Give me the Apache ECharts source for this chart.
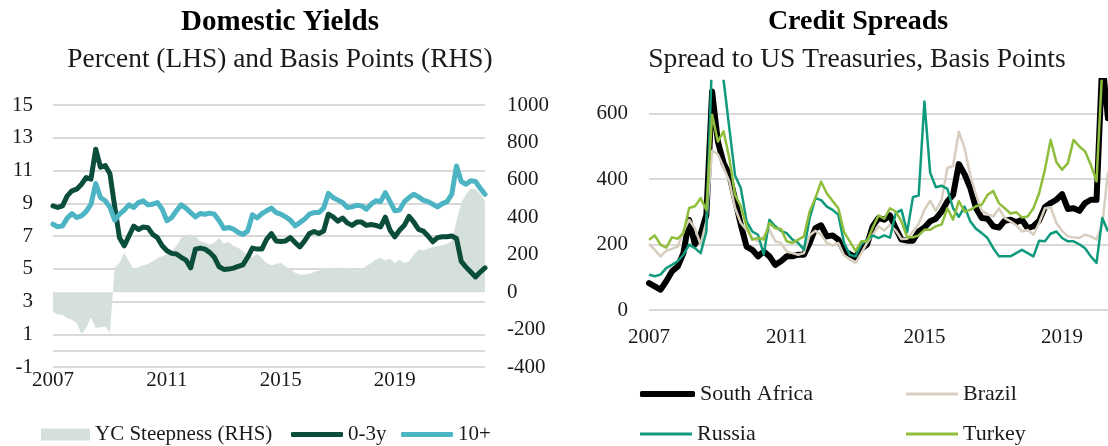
<!DOCTYPE html>
<html>
<head>
<meta charset="utf-8">
<script src="https://cdn.jsdelivr.net/npm/echarts@6/dist/echarts.min.js"></script>
<style>
  html, body { margin: 0; padding: 0; background: #fff; }
  #chart { width: 1108px; height: 446px; }
</style>
</head>
<body>
<div id="chart"></div>
<script>
// ---- Domestic yields (two-monthly observations from Jan 2007) ----
const yieldStart = [2007, 1];
const yieldStepMonths = 2;

// Yield-curve steepness, basis points (RHS)
const ycSteepness = [
  -103, -121, -121, -138, -147, -165, -224, -192, -135, -192, -188, -183, -215, 130, 156, 210,
  165, 121, 133, 144, 151, 165, 183, 192, 201, 219, 246, 290, 300, 310, 299,
  272, 264, 255, 264, 290, 258, 269, 246, 237, 219, 201, 187, 205, 183, 156, 144,
  151, 156, 138, 121, 103, 94, 94, 97, 108, 115, 126, 126, 130, 130,
  130, 121, 121, 115, 121, 138, 156, 174, 183, 169, 180, 156, 174, 156, 165, 201,
  228, 222, 233, 240, 246, 251, 258, 273, 380, 478, 523, 555, 550, 526, 487
];

// 0-3 year yield, percent (LHS)
const yield03 = [
  8.84, 8.74, 8.84, 9.45, 9.76, 9.86, 10.16, 10.57, 10.47, 12.3, 11.2, 11.3, 10.8, 8.8, 6.9, 6.4,
  7.0, 7.6, 7.4, 7.55, 7.5, 7.1, 6.9, 6.4, 6.1, 5.94, 5.9, 5.7, 5.53, 5.05, 6.2,
  6.26, 6.2, 6.0, 5.7, 5.12, 4.96, 4.98, 5.04, 5.14, 5.24, 5.7, 6.26, 6.2, 6.2, 6.8, 7.15,
  6.7, 6.66, 6.7, 6.9, 6.6, 6.34, 6.7, 7.15, 7.28, 7.15, 7.3, 8.33, 8.17, 7.9,
  8.1, 7.8, 7.65, 7.85, 7.85, 7.65, 7.7, 7.65, 7.55, 8.15, 7.35, 6.95, 7.35, 7.65, 8.2, 7.85,
  7.4, 7.3, 7.0, 6.65, 6.9, 6.95, 6.95, 7.0, 6.85, 5.45, 5.1, 4.8, 4.5, 4.8, 5.05
];

// 10+ year yield, percent (LHS)
const yield10 = [
  7.72, 7.56, 7.62, 8.09, 8.37, 8.13, 8.23, 8.5, 8.94, 10.2, 9.35, 9.15, 8.75, 7.97, 8.33, 8.58,
  8.9, 8.74, 9.04, 9.15, 8.9, 8.94, 9.04, 8.64, 7.93, 8.13, 8.54, 8.9, 8.7, 8.43, 8.17,
  8.37, 8.33, 8.4, 8.33, 7.93, 7.46, 7.52, 7.42, 7.22, 7.1, 7.3, 8.3, 8.1, 8.37, 8.54, 8.7,
  8.43, 8.33, 8.17, 7.97, 7.62, 7.82, 8.03, 8.33, 8.43, 8.43, 8.7, 9.6, 9.35, 9.19,
  9.04, 8.74, 8.78, 8.88, 8.84, 8.64, 8.94, 9.15, 9.1, 9.65, 9.1, 8.54, 8.58, 9.1, 9.35, 9.55,
  9.39, 9.19, 9.1, 8.94, 8.78, 8.98, 9.1, 9.55, 11.28, 10.33, 10.16, 10.37, 10.33, 9.92, 9.55
];

// ---- Credit spreads to US Treasuries, basis points (two-monthly from Jan 2007) ----
const spreadStart = [2007, 1];
const spreadStepMonths = 2;

const southAfrica = [
  82, 72, 62, 88, 118, 133, 174, 275, 200, 232, 291, 668, 515, 449, 413, 337, 261, 194, 184, 164,
  179, 164, 138, 149, 164, 164, 169, 169, 205, 250, 259, 225, 228, 215, 181, 171, 161, 187, 200, 256,
  281, 276, 289, 250, 215, 212, 212, 240, 252, 271, 279, 301, 332, 352, 446, 415, 373, 311, 281, 279,
  256, 252, 273, 276, 268, 276, 250, 256, 273, 314, 327, 337, 354, 309, 311, 303, 327, 337, 337, 760,
  586
];
const brazil = [
  202, 184, 164, 181, 187, 194, 240, 276, 250, 200, 271, 487, 476, 436, 393, 312, 266, 245, 220, 210,
  225, 245, 210, 205, 179, 174, 169, 174, 228, 242, 230, 205, 197, 205, 167, 154, 144, 174, 205, 230,
  256, 243, 261, 243, 217, 218, 240, 263, 306, 334, 303, 337, 434, 440, 545, 495, 411, 352, 303, 293,
  286, 311, 281, 271, 259, 240, 245, 230, 266, 311, 314, 266, 242, 225, 222, 220, 230, 225, 215, 261,
  423
];
const russia = [
  108, 103, 108, 128, 138, 149, 169, 200, 189, 174, 240, 780, 740, 703, 556, 411, 373, 271, 240, 230,
  170, 276, 256, 242, 235, 215, 205, 184, 281, 342, 336, 316, 306, 291, 205, 169, 164, 201, 215, 228,
  220, 228, 221, 296, 306, 238, 345, 350, 637, 420, 375, 380, 370, 311, 285, 316, 271, 248, 235, 220,
  189, 164, 164, 164, 174, 184, 174, 164, 212, 210, 233, 240, 220, 210, 210, 201, 189, 164, 144, 281,
  240
];
const turkey = [
  215, 228, 200, 191, 222, 218, 235, 312, 317, 342, 306, 597, 515, 546, 464, 352, 317, 256, 215, 220,
  215, 266, 250, 248, 210, 205, 215, 225, 301, 342, 392, 356, 333, 311, 238, 210, 181, 210, 210, 252,
  289, 279, 311, 301, 271, 222, 222, 228, 245, 245, 256, 261, 311, 276, 333, 301, 306, 317, 322, 352,
  364, 326, 311, 295, 299, 283, 286, 311, 357, 429, 520, 452, 429, 449, 520, 500, 485, 444, 393, 740,
  760
];

// Year labels shown every four years (every 24th two-monthly period)
const yearTicks = ['2007', '2011', '2015', '2019'];
const labelEvery = 24;

// Period labels (YYYY-MM) for a series starting at `start` with a fixed month step
function periods(start, stepMonths, count) {
  const out = [];
  for (let i = 0; i < count; i++) {
    const m = (start[1] - 1) + i * stepMonths;
    const y = start[0] + Math.floor(m / 12);
    const mm = (m % 12) + 1;
    out.push(y + '-' + (mm < 10 ? '0' + mm : mm));
  }
  return out;
}
const yieldPeriods = periods(yieldStart, yieldStepMonths, yield03.length);
const spreadPeriods = periods(spreadStart, spreadStepMonths, southAfrica.length);

const FONT = "'Liberation Serif', 'DejaVu Serif', serif";
const TEXT = '#1a1a1a';
const GRID = '#d9d9d9';
const C_AREA = '#d6e0db';
const C_03 = '#0a4d3b';
const C_10 = '#4db4c4';
const C_SA = '#000000';
const C_BR = '#d7cebf';
const C_RU = '#0f9a7d';
const C_TR = '#8fbe3c';

const labelStyle = { fontFamily: FONT, fontSize: 21, color: TEXT };
const legendTextLeft = { fontFamily: FONT, fontSize: 21, color: TEXT };
const legendTextRight = { fontFamily: FONT, fontSize: 22, color: TEXT };

function yearFormatter(v, idx) {
  const y = v.slice(0, 4);
  return (idx % labelEvery === 0 && yearTicks.indexOf(y) >= 0) ? y : '';
}

const chart = echarts.init(document.getElementById('chart'), null, { renderer: 'canvas' });

function legendItem(name, left, top, w, h, icon, text) {
  return { data: [name], left: left, top: top, icon: icon, itemWidth: w, itemHeight: h,
    itemGap: 0, padding: 0, textStyle: text, selectedMode: false };
}

chart.setOption({
  animation: false,
  backgroundColor: '#ffffff',
  title: [
    { text: 'Domestic Yields', left: 275, top: 3, textAlign: 'center',
      textStyle: { fontFamily: FONT, fontSize: 29, fontWeight: 'bold', color: '#000' } },
    { text: 'Percent (LHS) and Basis Points (RHS)', left: 275, top: 41, textAlign: 'center',
      textStyle: { fontFamily: FONT, fontSize: 27.4, fontWeight: 'normal', color: TEXT } },
    { text: 'Credit Spreads', left: 853, top: 3, textAlign: 'center',
      textStyle: { fontFamily: FONT, fontSize: 28, fontWeight: 'bold', color: '#000' } },
    { text: 'Spread to US Treasuries, Basis Points', left: 852, top: 41, textAlign: 'center',
      textStyle: { fontFamily: FONT, fontSize: 27.6, fontWeight: 'normal', color: TEXT } }
  ],
  legend: [
    legendItem('YC Steepness (RHS)', 41, 424, 49, 12, 'rect', legendTextLeft),
    legendItem('0-3y', 291, 424, 52, 5, 'roundRect', legendTextLeft),
    legendItem('10+', 401, 424, 52, 5, 'roundRect', legendTextLeft),
    legendItem('South Africa', 640, 383, 55, 6, 'roundRect', legendTextRight),
    legendItem('Brazil', 906, 383, 52, 3, 'rect', legendTextRight),
    legendItem('Russia', 640, 423, 52, 3, 'rect', legendTextRight),
    legendItem('Turkey', 906, 423, 52, 3, 'rect', legendTextRight)
  ],
  grid: [
    { left: 53, top: 105, width: 432, height: 262, containLabel: false },
    { left: 649, top: 81, right: 0, height: 229, containLabel: false }
  ],
  xAxis: [
    { type: 'category', gridIndex: 0, data: yieldPeriods, boundaryGap: false,
      axisLine: { show: false }, axisTick: { show: false }, splitLine: { show: false },
      axisLabel: Object.assign({ interval: labelEvery - 1, margin: 3, formatter: yearFormatter }, labelStyle) },
    { type: 'category', gridIndex: 1, data: spreadPeriods, boundaryGap: false,
      axisLine: { show: false }, axisTick: { show: false }, splitLine: { show: false },
      axisLabel: Object.assign({ interval: labelEvery - 1, margin: 17, formatter: yearFormatter }, labelStyle) }
  ],
  yAxis: [
    { type: 'value', gridIndex: 0, min: -1, max: 15, interval: 2, position: 'left',
      axisLine: { show: false }, axisTick: { show: false },
      splitLine: { show: true, lineStyle: { color: GRID, width: 2 } },
      axisLabel: Object.assign({ margin: 20 }, labelStyle) },
    { type: 'value', gridIndex: 0, min: -400, max: 1000, interval: 200, position: 'right',
      axisLine: { show: false }, axisTick: { show: false }, splitLine: { show: false },
      axisLabel: Object.assign({ margin: 22, formatter: v => String(v) }, labelStyle) },
    { type: 'value', gridIndex: 1, min: 0, max: 700, interval: 200,
      axisLine: { show: false }, axisTick: { show: false },
      splitLine: { show: true, lineStyle: { color: [GRID, GRID, GRID, GRID, 'rgba(0,0,0,0)'], width: 2 } },
      axisLabel: Object.assign({ margin: 21, showMaxLabel: false,
        formatter: v => (v % 200 === 0 ? String(v) : '') }, labelStyle) }
  ],
  series: [
    { name: 'YC Steepness (RHS)', type: 'line', xAxisIndex: 0, yAxisIndex: 1, data: ycSteepness,
      symbol: 'none', color: C_AREA, lineStyle: { width: 0 },
      areaStyle: { color: C_AREA, opacity: 1, origin: 0 }, z: 1 },
    { name: '0-3y', type: 'line', xAxisIndex: 0, yAxisIndex: 0, data: yield03,
      symbol: 'none', color: C_03, lineStyle: { width: 5, color: C_03, cap: 'round', join: 'round' }, z: 3,
      markLine: { silent: true, symbol: 'none', label: { show: false },
        lineStyle: { color: GRID, width: 2, type: 'solid' }, data: [{ yAxis: 0 }] } },
    { name: '10+', type: 'line', xAxisIndex: 0, yAxisIndex: 0, data: yield10,
      symbol: 'none', color: C_10, lineStyle: { width: 5, color: C_10, cap: 'round', join: 'round' }, z: 4 },
    { name: 'South Africa', type: 'line', xAxisIndex: 1, yAxisIndex: 2, data: southAfrica,
      symbol: 'none', color: C_SA, lineStyle: { width: 6, color: C_SA, cap: 'round', join: 'round' }, z: 3 },
    { name: 'Brazil', type: 'line', xAxisIndex: 1, yAxisIndex: 2, data: brazil,
      symbol: 'none', color: C_BR, lineStyle: { width: 2.5, color: C_BR, join: 'round' }, z: 4 },
    { name: 'Russia', type: 'line', xAxisIndex: 1, yAxisIndex: 2, data: russia,
      symbol: 'none', color: C_RU, lineStyle: { width: 2.5, color: C_RU, join: 'round' }, z: 5 },
    { name: 'Turkey', type: 'line', xAxisIndex: 1, yAxisIndex: 2, data: turkey,
      symbol: 'none', color: C_TR, lineStyle: { width: 2.5, color: C_TR, join: 'round' }, z: 6 }
  ]
});
</script>
</body>
</html>
